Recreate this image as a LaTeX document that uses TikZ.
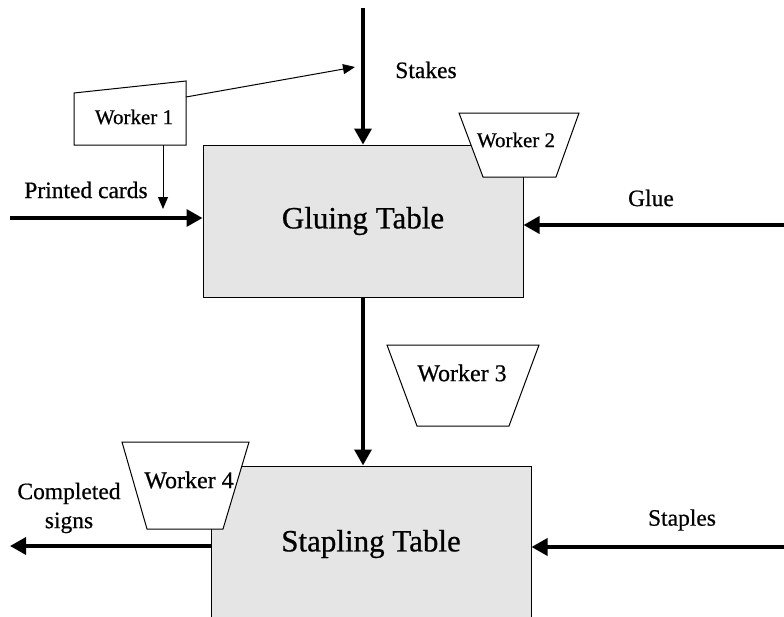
\documentclass[tikz,border=0pt]{standalone}
\usepackage{fontspec}
\setmainfont{Liberation Serif}[UprightFeatures={FakeBold=0.6}]
\usetikzlibrary{arrows.meta}

\begin{document}
\begin{tikzpicture}[x=1pt,y=-1pt,
    table/.style={draw,line width=1pt,fill=black!10,minimum width=320pt,font=\fontsize{31}{36}\selectfont},
    flow/.style={-{Triangle[length=16pt,width=17pt]},line width=3.5pt},
    hand/.style={-{Triangle[length=12pt,width=10pt]},line width=1pt},
    worker/.style={draw,line width=1pt,fill=white},
    wsmall/.style={font=\fontsize{21}{25}\selectfont},
    wbig/.style={font=\fontsize{24}{28}\selectfont},
    lbl/.style={font=\fontsize{23.5}{29}\selectfont,align=center}]
    \clip (0,0) rectangle (784,616);
    
    % Tables
    \node[table,minimum height=152pt] (gluing) at (363,221) {Gluing Table};
    \node[table,minimum height=156pt] (stapling) at (371,544) {Stapling Table};
    
    % Entrées / sorties
    \coordinate (stakes) at (363,8);
    \coordinate (cards) at (10,218);
    \coordinate (glue) at (784,225);
    \coordinate (staples) at (784,547);
    \coordinate (done) at (10,546);
    
    \draw[flow] (stakes) -- (gluing.north);
    \draw[flow] (cards) -- (cards -| gluing.west);
    \draw[flow] (glue) -- (glue -| gluing.east);
    \draw[flow] (gluing.south) -- (gluing.south |- stapling.north);
    \draw[flow] (staples) -- (staples -| stapling.east);
    \draw[flow] (done -| stapling.west) -- (done);
    
    \node[lbl] (lstakes) at (426,70) {Stakes};
    \node[lbl] (lcards) at (86,190) {Printed cards};
    \node[lbl] (lglue) at (651,198) {Glue};
    \node[lbl] (lstaples) at (682,520) {Staples};
    \node[lbl] (ldone) at (69,508) {Completed\\signs};
    
    % Worker 1
    \draw[worker] (74,93) -- (186,81) -- (186,145) -- (74,145) -- cycle;
    \node[wsmall] (w1) at (134,117) {Worker 1};
    \coordinate (w1out) at (186,97);
    \coordinate (w1down) at (163,145);
    \coordinate (stakein) at (355,67);
    \coordinate (cardin) at (163,209);
    \draw[hand] (w1out) -- (stakein);
    \draw[hand] (w1down) -- (cardin);
    
    % Autres ouvriers
    \draw[worker] (459,113) -- (579,113) -- (556,177) -- (483,177) -- cycle;
    \node[wsmall] (w2) at (516,140) {Worker 2};
    
    \draw[worker] (387,345) -- (539,345) -- (509,426) -- (417,426) -- cycle;
    \node[wbig] (w3) at (462,373) {Worker 3};
    
    \draw[worker] (122,442) -- (249,442) -- (223,529) -- (147,529) -- cycle;
    \node[wbig] (w4) at (189,480) {Worker 4};
\end{tikzpicture}
\end{document}
